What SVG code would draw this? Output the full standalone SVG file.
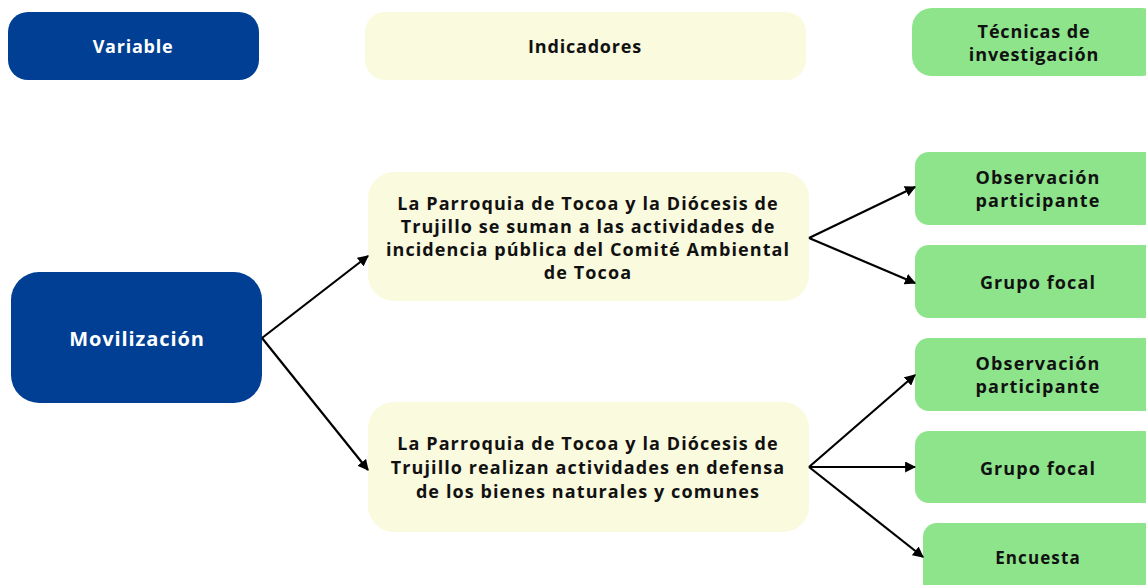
<svg xmlns="http://www.w3.org/2000/svg" width="1146" height="585" viewBox="0 0 1146 585">
<defs>
<style>
.blue{fill:#003f93}
.yel{fill:#fafadf}
.grn{fill:#8de48b}
text{font-family:"Open Sans","DejaVu Sans",sans-serif;font-weight:bold;text-anchor:middle;font-size:18px;letter-spacing:1px}
.w{fill:#ffffff}
.k{fill:#111111}
.c line{stroke:#000;stroke-width:2.2;marker-end:url(#ah)}
</style>
<marker id="ah" viewBox="0 0 10 10" refX="9" refY="5" markerWidth="5" markerHeight="5" orient="auto" markerUnits="strokeWidth">
<path d="M0,0 L10,5 L0,10 z" fill="#000"/>
</marker>
</defs>
<rect width="1146" height="585" fill="#fff"/>
<g id="variable"><rect class="blue" x="8" y="12" width="251" height="68" rx="20"/><text class="w" x="133" y="53" style="letter-spacing:0.75px">Variable</text></g>
<g id="indicadores"><rect class="yel" x="365" y="12" width="441" height="68" rx="20"/><text class="k" x="585" y="53" style="letter-spacing:0.8px">Indicadores</text></g>
<g id="tecnicas"><rect class="grn" x="912" y="8" width="250" height="68" rx="20"/><text class="k" style="letter-spacing:0.85px"><tspan x="1034" y="38">Técnicas de</tspan><tspan x="1034" y="61">investigación</tspan></text></g>
<g id="movilizacion"><rect class="blue" x="11" y="272" width="251" height="131" rx="28"/><text class="w" x="137" y="346" style="font-size:20px;letter-spacing:0.9px">Movilización</text></g>
<g id="ind1"><rect class="yel" x="368" y="172" width="441" height="129" rx="26"/><text class="k" style="letter-spacing:1.1px"><tspan x="588" y="210">La Parroquia de Tocoa y la Diócesis de</tspan><tspan x="588" y="233">Trujillo se suman a las actividades de</tspan><tspan x="588" y="256">incidencia pública del Comité Ambiental</tspan><tspan x="588" y="279">de Tocoa</tspan></text></g>
<g id="ind2"><rect class="yel" x="368" y="402" width="441" height="130" rx="26"/><text class="k" style="letter-spacing:1.1px"><tspan x="588" y="450">La Parroquia de Tocoa y la Diócesis de</tspan><tspan x="588" y="474">Trujillo realizan actividades en defensa</tspan><tspan x="588" y="498">de los bienes naturales y comunes</tspan></text></g>
<g id="obs1"><rect class="grn" x="915" y="152" width="250" height="73" rx="14"/><text class="k" style="letter-spacing:1.15px"><tspan x="1038" y="184">Observación</tspan><tspan x="1038" y="207">participante</tspan></text></g>
<g id="grupo1"><rect class="grn" x="915" y="245" width="250" height="73" rx="14"/><text class="k" x="1038" y="289" style="letter-spacing:1.1px">Grupo focal</text></g>
<g id="obs2"><rect class="grn" x="915" y="338" width="250" height="73" rx="14"/><text class="k" style="letter-spacing:1.15px"><tspan x="1038" y="370">Observación</tspan><tspan x="1038" y="393">participante</tspan></text></g>
<g id="grupo2"><rect class="grn" x="915" y="431" width="250" height="72" rx="14"/><text class="k" x="1038" y="475" style="letter-spacing:1.1px">Grupo focal</text></g>
<g id="encuesta"><rect class="grn" x="923" y="523" width="250" height="80" rx="14"/><text class="k" x="1038" y="564" style="font-size:17px;letter-spacing:1.1px">Encuesta</text></g>
<g id="connectors" class="c">
<line x1="262" y1="338" x2="368" y2="256"/>
<line x1="262" y1="338" x2="368" y2="470"/>
<line x1="809" y1="238" x2="915" y2="187"/>
<line x1="809" y1="238" x2="915" y2="283"/>
<line x1="809" y1="467" x2="915" y2="375"/>
<line x1="809" y1="467" x2="915" y2="467"/>
<line x1="809" y1="467" x2="923" y2="557"/>
</g>
</svg>
